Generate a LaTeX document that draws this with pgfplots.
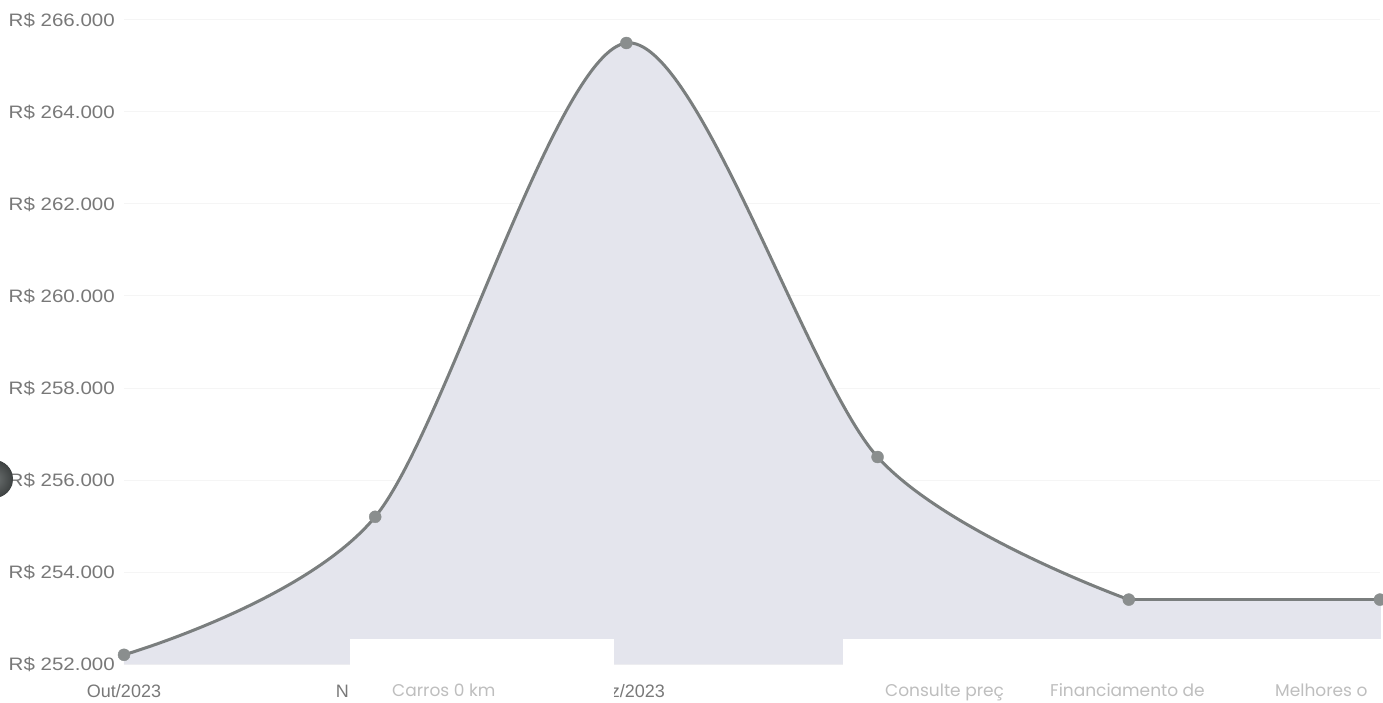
\documentclass[border=0pt]{standalone}
\usepackage{pgfplots}
\pgfplotsset{compat=1.18}
\usepackage{fontspec}
\setmainfont{Liberation Sans}
\newfontfamily\ylab{Liberation Sans}[FakeStretch=1.14]
\newfontfamily\pop{Poppins}
\definecolor{fillc}{RGB}{228,229,237}
\definecolor{linec}{RGB}{122,126,126}
\definecolor{markc}{RGB}{138,142,142}
\definecolor{lab}{RGB}{120,120,120}
\definecolor{ovl}{RGB}{190,190,190}
\definecolor{dotin}{RGB}{110,115,115}
\definecolor{dotout}{RGB}{60,64,64}
\begin{document}
\begin{tikzpicture}[x=1pt,y=1pt]
\path[use as bounding box] (0,0) rectangle (1383,702);
\begin{axis}[at={(124pt,38pt)}, anchor=south west, scale only axis,
  width=1256pt, height=644pt, xmin=0, xmax=5, ymin=252000, ymax=266000,
  clip=false, axis line style={draw=none}, major tick length=0pt,
  xtick={0,...,5},
  xticklabels={Out/2023,{},Dez/2023,{},{},{}},
  ytick={252000,254000,256000,258000,260000,262000,264000,266000},
  yticklabels={R\$ 252.000,R\$ 254.000,R\$ 256.000,R\$ 258.000,R\$ 260.000,R\$ 262.000,R\$ 264.000,R\$ 266.000},
  ymajorgrids, grid style={black!4, line width=1pt},
  tick label style={font=\fontsize{18}{20}\selectfont, text=lab},
  yticklabel style={font=\ylab\fontsize{18}{20}\selectfont, anchor=east, inner sep=0pt, xshift=-9pt},
  xticklabel style={anchor=base, inner sep=0pt, yshift=-33pt},
  scaled y ticks=false]
\addplot[draw=fillc, line width=0.5pt, fill=fillc, smooth] coordinates {(0,252200) (1,255200) (2,265500) (3,256500) (4,253400)} \closedcycle;
\addplot[draw=fillc, line width=0.5pt, fill=fillc, sharp plot] coordinates {(4,253400) (5,253400)} \closedcycle;
\addplot[linec, line width=3pt, smooth] coordinates {(0,252200) (1,255200) (2,265500) (3,256500) (4,253400)};
\addplot[linec, line width=3pt, sharp plot] coordinates {(4,253400) (5,253400)};
\addplot[only marks, mark=*, mark size=6pt, mark options={fill=markc, draw=markc}] coordinates {(0,252200) (1,255200) (2,265500) (3,256500) (4,253400) (5,253400)};
\end{axis}
\fill[white] (350,0) rectangle (614,63);
\fill[white] (843,0) rectangle (1383,63);
\shade[inner color=dotin, outer color=dotout] (-6,223) circle (19);
\node[anchor=base east, inner sep=0pt, text=lab, font=\fontsize{18}{20}\selectfont] at (349,5) {N};
\node[anchor=base west, inner sep=0pt, text=ovl, font=\pop\fontsize{17}{20}\selectfont] at (392,6) {Carros 0 km};
\node[anchor=base west, inner sep=0pt, text=ovl, font=\pop\fontsize{17}{20}\selectfont] at (885,6) {Consulte preç};
\node[anchor=base west, inner sep=0pt, text=ovl, font=\pop\fontsize{17}{20}\selectfont] at (1050,6) {Financiamento de};
\node[anchor=base west, inner sep=0pt, text=ovl, font=\pop\fontsize{17}{20}\selectfont] at (1275,6) {Melhores o};
\end{tikzpicture}
\end{document}
